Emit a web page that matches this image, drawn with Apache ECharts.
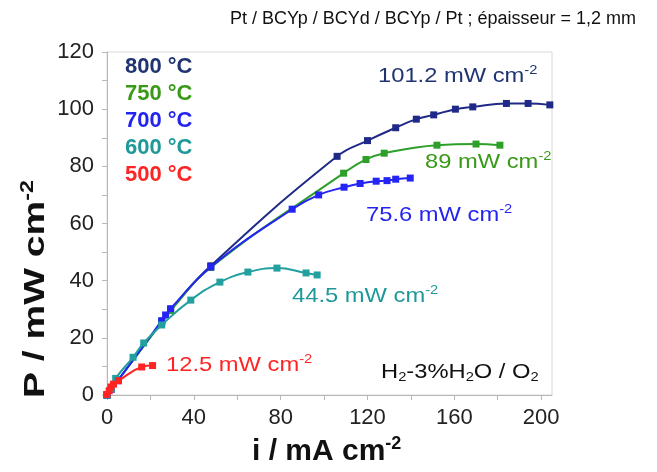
<!DOCTYPE html>
<html><head><meta charset="utf-8">
<script src="https://cdn.jsdelivr.net/npm/echarts@6/dist/echarts.min.js"></script>
<style>html,body{margin:0;padding:0;background:#fff}#c{width:657px;height:472px}</style>
</head><body><div id="c"></div>
<script>
// ---- data ----
const seriesNames = ['800 °C', '750 °C', '700 °C', '600 °C', '500 °C'];
const i800 = [0, 25.2, 29.3, 47.8, 106, 120, 133, 142.5, 150.5, 160.5, 168.5, 184, 194, 204];
const p800 = [0, 25.6, 29.7, 45.2, 83.5, 89, 93.5, 96.5, 98, 100, 100.8, 102, 102, 101.5];
const i750 = [0, 25.2, 29.3, 47.8, 109, 119.3, 127.7, 152, 170, 181];
const p750 = [0, 25.5, 29.5, 44.6, 77.6, 82.4, 84.6, 87.4, 87.8, 87.4];
const i700 = [0, 2, 5, 25.2, 27, 29.3, 47.8, 85.3, 97.5, 109.2, 116.6, 124, 129, 133, 139.7];
const p700 = [0, 2, 5, 26, 28, 30.2, 44.8, 65, 70, 72.7, 74, 74.8, 75, 75.5, 75.9];
const i600 = [0, 2, 4, 12, 16.9, 25.2, 38.6, 52, 64.9, 78.3, 91.7, 96.8];
const p600 = [0, 2.2, 5.8, 13.2, 18.2, 24.5, 33.2, 39.5, 43, 44.4, 42.7, 42];
const i500 = [0, 1, 1.8, 3, 5.3, 16, 21];
const p500 = [0.2, 1.5, 2.8, 3.8, 5, 9.8, 10.3];
const peakLabels = ['101.2 mW cm', '89 mW cm', '75.6 mW cm', '44.5 mW cm', '12.5 mW cm'];
const xTicks = [0, 40, 80, 120, 160, 200];
const yTicks = [0, 20, 40, 60, 80, 100, 120];

const FONT = '"Liberation Sans", Arial, sans-serif';
const lineColors = ['#1f2a88', '#2ea02a', '#2424f4', '#22a0a0', '#ff2424'];
const textColors = ['#1f3470', '#3a9a18', '#2424f0', '#1e9898', '#ff2424'];
const xs = [i800, i750, i700, i600, i500];
const ys = [p800, p750, p700, p600, p500];

const series = seriesNames.map((n, k) => ({
  name: n, type: 'line', smooth: 0.45,
  data: xs[k].map((v, j) => [v, ys[k][j]]),
  symbol: 'rect', symbolSize: 7, showSymbol: true,
  lineStyle: { color: lineColors[k], width: 2 },
  itemStyle: { color: lineColors[k] },
  z: 2 + k
}));

function ann(txt, color, x, y) {
  return {
    type: 'text', x: x, y: y, scaleX: 1.13, z: 20,
    style: {
      text: '{a|' + txt + '}{s|-2}',
      rich: {
        a: { fontSize: 21, fontFamily: FONT, fill: color, lineHeight: 24 },
        s: { fontSize: 13, fontFamily: FONT, fill: color, lineHeight: 13, verticalAlign: 'top' }
      }
    }
  };
}

const chart = echarts.init(document.getElementById('c'), null, { renderer: 'canvas' });
chart.setOption({
  animation: false,
  backgroundColor: '#fff',
  grid: { left: 107, top: 52, right: 105, bottom: 77, show: true, borderColor: '#d8d8d8', borderWidth: 1 },
  legend: {
    orient: 'vertical', left: 125, top: 56, itemGap: 5, itemWidth: 0, itemHeight: 0, icon: 'none',
    padding: 0, selectedMode: false,
    data: seriesNames.map((n, k) => ({ name: n, textStyle: { color: textColors[k] } })),
    textStyle: { fontSize: 22, fontWeight: 'bold', fontFamily: FONT, padding: [0,0,0,-5], lineHeight: 22 }
  },
  xAxis: {
    type: 'value', min: 0, max: 205, interval: 20,
    axisLine: { show: true, lineStyle: { color: '#b8b8b8' } },
    axisTick: { show: true, length: 5, lineStyle: { color: '#b8b8b8' } },
    splitLine: { show: false },
    axisLabel: {
      fontSize: 22, fontFamily: FONT, color: '#222', margin: 12, showMaxLabel: false,
      formatter: v => xTicks.includes(v) ? String(v) : ''
    }
  },
  yAxis: {
    type: 'value', min: 0, max: 120, interval: 10,
    axisLine: { show: true, lineStyle: { color: '#b8b8b8' } },
    axisTick: { show: true, length: 5, lineStyle: { color: '#b8b8b8' } },
    splitLine: { show: false },
    axisLabel: {
      fontSize: 22, fontFamily: FONT, color: '#222', margin: 13,
      formatter: v => yTicks.includes(v) ? String(v) : ''
    }
  },
  series: series,
  graphic: [
    { type: 'text', left: 230, top: 10, z: 20,
      style: { text: 'Pt / BCYp / BCYd / BCYp / Pt ; épaisseur = 1,2 mm', font: '18px ' + FONT, fill: '#111' } },
    { type: 'text', x: 252, y: 435, z: 20,
      style: { text: '{a|i / mA cm}{s|-2}', rich: {
        a: { fontSize: 30, fontWeight: 'bold', fontFamily: FONT, fill: '#111', lineHeight: 33 },
        s: { fontSize: 18, fontWeight: 'bold', fontFamily: FONT, fill: '#111', lineHeight: 18, verticalAlign: 'top' } } } },
    { type: 'text', x: 19, y: 398, rotation: Math.PI / 2, scaleX: 1.3, z: 20,
      style: { text: '{a|P / mW cm}{s|-2}', rich: {
        a: { fontSize: 30, fontWeight: 'bold', fontFamily: FONT, fill: '#111', lineHeight: 33 },
        s: { fontSize: 18, fontWeight: 'bold', fontFamily: FONT, fill: '#111', lineHeight: 18, verticalAlign: 'top' } } } },
    ann(peakLabels[0], textColors[0], 378, 64),
    ann(peakLabels[1], textColors[1], 425, 150),
    ann(peakLabels[2], textColors[2], 366, 203),
    ann(peakLabels[3], textColors[3], 292, 284),
    ann(peakLabels[4], textColors[4], 166, 353),
    { type: 'text', x: 381, y: 360, scaleX: 1.13, z: 20,
      style: { text: '{a|H}{b|2}{a|-3%H}{b|2}{a|O / O}{b|2}', rich: {
        a: { fontSize: 21, fontFamily: FONT, fill: '#111', lineHeight: 24 },
        b: { fontSize: 13, fontFamily: FONT, fill: '#111', lineHeight: 13, verticalAlign: 'bottom' } } } }
  ]
});
</script></body></html>
